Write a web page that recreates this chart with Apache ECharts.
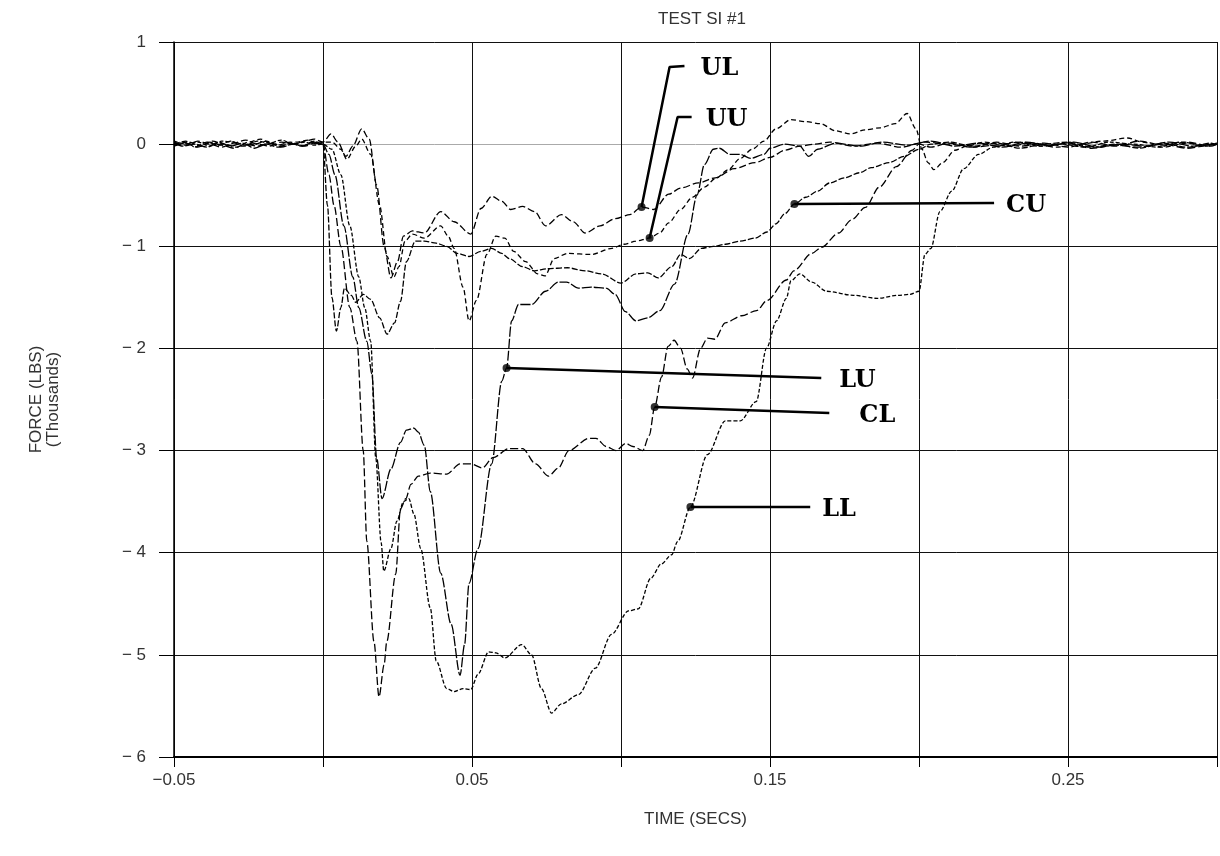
<!DOCTYPE html>
<html>
<head>
<meta charset="utf-8">
<title>TEST SI #1</title>
<script src="https://cdn.jsdelivr.net/npm/echarts@6/dist/echarts.min.js"></script>
<style>
  html, body { margin: 0; padding: 0; background: #fff; }
  #chart { width: 1220px; height: 856px; }
</style>
</head>
<body>
<div id="chart"></div>
<script>
// load traces, [time (secs), force (thousand lbs)]
const UL = [
  [-0.05,0.02],[-0.046,-0.01],[-0.042,0.03],[-0.038,0.0],[-0.034,-0.03],[-0.03,0.01],[-0.026,0.04],[-0.022,0.0],
  [-0.018,-0.02],[-0.014,0.02],[-0.01,0.0],[-0.006,0.03],[-0.003,0.05],[0,0.02],
  [0.0027,0.1],[0.005,0.02],[0.0077,-0.12],[0.010,-0.02],[0.013,0.15],[0.0155,0.05],[0.018,-0.4],[0.0205,-1.0],
  [0.0228,-1.31],[0.025,-1.15],[0.027,-0.9],[0.030,-0.85],[0.034,-0.87],[0.0395,-0.66],[0.044,-0.76],[0.0496,-0.88],
  [0.053,-0.63],[0.0567,-0.51],[0.060,-0.56],[0.063,-0.64],[0.067,-0.61],[0.071,-0.66],[0.0747,-0.8],[0.080,-0.69],
  [0.084,-0.76],[0.088,-0.87],[0.093,-0.8],[0.098,-0.73],[0.103,-0.69],[0.1069,-0.615],[0.111,-0.64],[0.116,-0.49],
  [0.120,-0.43],[0.126,-0.38],[0.1316,-0.33],[0.138,-0.24],[0.145,-0.18],[0.150,-0.13],[0.155,-0.06],[0.16,-0.02],
  [0.165,0.0],[0.17,0.02],[0.178,-0.02],[0.186,0.01],[0.194,-0.03],[0.202,0.02],[0.21,0.0],[0.218,-0.03],[0.226,0.02],
  [0.234,-0.02],[0.242,0.01],[0.25,-0.03],[0.258,0.02],[0.266,-0.02],[0.274,0.03],[0.282,-0.01],[0.29,0.02],
  [0.298,-0.02],[0.3,0.0]
];
const UU = [
  [-0.05,-0.01],[-0.045,0.02],[-0.041,-0.02],[-0.037,0.03],[-0.033,0.0],[-0.029,-0.03],[-0.025,0.02],[-0.021,0.05],
  [-0.017,0.0],[-0.013,-0.02],[-0.009,0.02],[-0.005,0.04],[-0.002,0.0],[0,0.02],
  [0.003,0.02],[0.006,-0.05],[0.008,-0.15],[0.011,-0.02],[0.013,0.05],[0.016,-0.1],[0.019,-0.6],[0.0215,-1.1],
  [0.0238,-1.3],[0.0255,-1.2],[0.0275,-0.95],[0.030,-0.88],[0.034,-0.92],[0.0395,-0.8],[0.042,-0.9],[0.044,-1.02],
  [0.047,-1.4],[0.049,-1.73],[0.0515,-1.53],[0.055,-1.08],[0.058,-0.9],[0.061,-0.92],[0.064,-1.05],[0.068,-1.15],
  [0.072,-1.27],[0.0745,-1.29],[0.0776,-1.12],[0.082,-1.07],[0.090,-1.08],[0.097,-1.02],[0.101,-0.98],[0.105,-0.95],
  [0.1096,-0.919],[0.113,-0.87],[0.116,-0.77],[0.120,-0.64],[0.124,-0.52],[0.128,-0.42],[0.132,-0.33],[0.136,-0.25],
  [0.140,-0.14],[0.144,-0.05],[0.148,0.03],[0.152,0.15],[0.157,0.24],[0.162,0.22],[0.167,0.2],[0.172,0.13],
  [0.177,0.1],[0.182,0.14],[0.187,0.16],[0.192,0.2],[0.196,0.3],[0.199,0.15],[0.201,-0.05],[0.203,-0.18],
  [0.205,-0.25],[0.208,-0.18],[0.212,-0.06],[0.216,-0.02],[0.222,0.02],[0.23,-0.02],[0.238,0.01],[0.246,-0.03],
  [0.254,0.0],[0.262,0.03],[0.27,0.06],[0.275,0.02],[0.282,-0.03],[0.29,0.01],[0.296,-0.02],[0.3,0.0]
];
const CU = [
  [-0.05,0.0],[-0.046,0.03],[-0.043,-0.03],[-0.039,0.02],[-0.035,-0.01],[-0.031,0.03],[-0.027,-0.02],[-0.023,0.0],
  [-0.019,0.03],[-0.015,-0.01],[-0.011,0.02],[-0.007,-0.02],[-0.003,0.03],[0,0.0],
  [0.0015,-0.6],[0.003,-1.5],[0.0045,-1.83],[0.006,-1.6],[0.0072,-1.41],[0.0095,-1.48],[0.011,-1.55],[0.0135,-1.47],
  [0.016,-1.52],[0.019,-1.7],[0.0215,-1.86],[0.024,-1.75],[0.026,-1.54],[0.028,-1.15],[0.031,-0.95],[0.034,-0.95],
  [0.038,-0.97],[0.0415,-1.0],[0.045,-1.07],[0.049,-1.1],[0.053,-1.05],[0.0566,-1.02],[0.060,-1.07],[0.0625,-1.12],
  [0.067,-1.2],[0.071,-1.24],[0.075,-1.22],[0.082,-1.21],[0.088,-1.24],[0.0935,-1.27],[0.1,-1.36],[0.105,-1.27],
  [0.109,-1.26],[0.1125,-1.31],[0.117,-1.2],[0.120,-1.08],[0.123,-1.12],[0.127,-1.02],[0.131,-1.0],[0.135,-0.98],
  [0.14,-0.95],[0.145,-0.92],[0.149,-0.86],[0.152,-0.78],[0.155,-0.68],[0.1582,-0.586],[0.162,-0.52],[0.166,-0.46],
  [0.170,-0.38],[0.175,-0.33],[0.180,-0.28],[0.184,-0.23],[0.190,-0.18],[0.195,-0.12],[0.200,-0.05],[0.204,0.0],
  [0.21,0.02],[0.218,-0.02],[0.226,0.01],[0.234,-0.04],[0.242,0.0],[0.25,0.02],[0.258,-0.03],[0.266,0.0],
  [0.274,-0.04],[0.282,0.01],[0.29,-0.03],[0.298,0.01],[0.3,-0.01]
];
const LU = [
  [-0.05,0.01],[-0.047,-0.02],[-0.043,0.0],[-0.039,-0.03],[-0.035,0.02],[-0.031,-0.02],[-0.027,0.01],[-0.023,-0.04],
  [-0.019,0.0],[-0.015,-0.03],[-0.011,0.01],[-0.007,-0.02],[-0.003,0.02],[0,0.0],
  [0.002,-0.1],[0.004,-0.3],[0.007,-0.8],[0.010,-1.3],[0.012,-1.6],[0.0147,-1.93],[0.0164,-2.25],[0.018,-3.07],
  [0.0198,-3.47],[0.0228,-3.18],[0.026,-2.92],[0.028,-2.8],[0.0305,-2.78],[0.032,-2.82],[0.034,-2.95],[0.036,-3.4],
  [0.0395,-4.2],[0.043,-4.7],[0.046,-5.2],[0.0475,-4.9],[0.049,-4.3],[0.052,-3.96],[0.0566,-3.13],[0.060,-2.32],
  [0.0616,-2.192],[0.0633,-1.73],[0.0656,-1.57],[0.070,-1.57],[0.0747,-1.44],[0.079,-1.35],[0.0817,-1.35],
  [0.0857,-1.41],[0.090,-1.40],[0.095,-1.41],[0.098,-1.47],[0.1015,-1.64],[0.105,-1.73],[0.109,-1.70],[0.113,-1.63],
  [0.118,-1.37],[0.1225,-0.88],[0.1255,-0.5],[0.128,-0.2],[0.131,-0.05],[0.133,-0.04],[0.1365,-0.1],[0.14,-0.1],
  [0.1435,-0.14],[0.148,-0.1],[0.15,-0.04],[0.155,0.0],[0.16,-0.02],[0.163,-0.12],[0.166,-0.05],[0.172,0.01],
  [0.18,-0.02],[0.188,0.02],[0.196,-0.01],[0.204,0.03],[0.212,-0.02],[0.22,0.01],[0.228,-0.03],[0.236,0.02],
  [0.244,-0.01],[0.252,0.02],[0.26,-0.03],[0.268,0.0],[0.276,-0.02],[0.284,0.02],[0.292,-0.02],[0.3,0.01]
];
const CL = [
  [-0.05,-0.02],[-0.046,0.01],[-0.042,-0.03],[-0.038,0.02],[-0.034,-0.01],[-0.03,-0.04],[-0.026,0.0],[-0.022,-0.02],
  [-0.018,0.01],[-0.014,-0.03],[-0.01,0.0],[-0.006,-0.02],[-0.003,0.01],[0,0.0],
  [0.002,-0.3],[0.0037,-0.6],[0.006,-1.0],[0.009,-1.6],[0.0114,-1.93],[0.0135,-3.0],[0.0147,-3.89],[0.0171,-4.87],
  [0.0188,-5.41],[0.0205,-5.1],[0.0214,-4.87],[0.0244,-4.21],[0.026,-3.57],[0.0278,-3.47],[0.0295,-3.33],
  [0.032,-3.25],[0.036,-3.22],[0.0415,-3.23],[0.046,-3.13],[0.0496,-3.13],[0.0535,-3.17],[0.057,-3.07],
  [0.0625,-2.98],[0.067,-2.98],[0.0713,-3.13],[0.0757,-3.25],[0.079,-3.17],[0.0825,-3.0],[0.0893,-2.88],
  [0.0916,-2.88],[0.095,-2.96],[0.0983,-3.0],[0.1016,-2.93],[0.104,-2.96],[0.1073,-3.0],[0.1095,-2.85],
  [0.1113,-2.574],[0.1136,-2.28],[0.1158,-1.98],[0.1178,-1.92],[0.12,-2.0],[0.1222,-2.2],[0.124,-2.29],
  [0.1267,-2.0],[0.129,-1.9],[0.1315,-1.91],[0.135,-1.75],[0.1405,-1.68],[0.1455,-1.63],[0.149,-1.53],
  [0.1555,-1.33],[0.158,-1.24],[0.164,-1.07],[0.1673,-1.01],[0.173,-0.87],[0.1774,-0.74],[0.182,-0.62],
  [0.1867,-0.42],[0.1924,-0.22],[0.1977,-0.06],[0.2,0.0],[0.204,-0.03],[0.21,0.01],[0.218,-0.03],[0.226,-0.01],
  [0.234,0.02],[0.242,-0.02],[0.25,0.01],[0.258,-0.04],[0.266,-0.01],[0.274,-0.03],[0.282,0.0],[0.29,-0.04],
  [0.298,-0.01],[0.3,0.0]
];
const LL = [
  [-0.05,0.03],[-0.046,0.0],[-0.042,0.02],[-0.038,-0.02],[-0.034,0.03],[-0.03,0.02],[-0.026,-0.01],[-0.022,0.03],
  [-0.018,0.01],[-0.014,0.04],[-0.01,0.0],[-0.006,0.02],[-0.003,-0.01],[0,0.0],
  [0.003,-0.05],[0.006,-0.3],[0.009,-0.8],[0.012,-1.3],[0.014,-1.6],[0.016,-1.93],[0.0177,-3.07],[0.0195,-3.9],
  [0.0204,-4.18],[0.0228,-3.96],[0.0248,-3.69],[0.027,-3.5],[0.0288,-3.47],[0.0305,-3.62],[0.0328,-3.96],
  [0.036,-4.54],[0.038,-5.06],[0.0415,-5.33],[0.044,-5.36],[0.047,-5.33],[0.0496,-5.34],[0.052,-5.19],
  [0.0556,-4.97],[0.058,-4.98],[0.061,-5.03],[0.0667,-4.9],[0.07,-5.0],[0.0733,-5.33],[0.0767,-5.57],[0.08,-5.48],
  [0.0857,-5.39],[0.0914,-5.13],[0.0968,-4.8],[0.1025,-4.57],[0.1058,-4.55],[0.11,-4.25],[0.1135,-4.11],
  [0.117,-4.02],[0.119,-3.89],[0.1233,-3.553],[0.129,-3.04],[0.135,-2.71],[0.14,-2.71],[0.1454,-2.52],
  [0.1488,-2.0],[0.1522,-1.73],[0.1555,-1.51],[0.157,-1.34],[0.16,-1.27],[0.164,-1.35],[0.169,-1.44],
  [0.178,-1.48],[0.186,-1.51],[0.193,-1.48],[0.197,-1.47],[0.2,-1.44],[0.202,-1.08],[0.204,-1.02],[0.207,-0.66],
  [0.211,-0.46],[0.215,-0.24],[0.22,-0.1],[0.225,-0.03],[0.232,0.02],[0.24,-0.02],[0.248,0.0],[0.256,-0.03],
  [0.264,0.02],[0.272,0.0],[0.28,-0.03],[0.288,0.02],[0.296,-0.01],[0.3,0.01]
];

const traces = [
  { name: "UL", data: UL, dash: [7, 3] },
  { name: "UU", data: UU, dash: [5, 3] },
  { name: "CU", data: CU, dash: [6, 2] },
  { name: "LU", data: LU, dash: [10, 2] },
  { name: "CL", data: CL, dash: [8, 3] },
  { name: "LL", data: LL, dash: [4, 2] }
];

// which x ticks get a number under them
const xLabelled = [-0.05, 0.05, 0.15, 0.25];

// call-out leaders: dot on the trace, bend, end of leader
const pointers = [
  { name: "UL", pts: [[0.1069, -0.615], [0.1163, 0.755], [0.1213, 0.765]], gap: 16 },
  { name: "UU", pts: [[0.1096, -0.919], [0.119, 0.266], [0.1237, 0.266]], gap: 14 },
  { name: "CU", pts: [[0.1582, -0.586], [0.2252, -0.576]], gap: 12 },
  { name: "LU", pts: [[0.0616, -2.192], [0.1672, -2.29]], gap: 18 },
  { name: "CL", pts: [[0.1113, -2.574], [0.1699, -2.632]], gap: 30 },
  { name: "LL", pts: [[0.1233, -3.553], [0.1635, -3.553]], gap: 12 }
];

const chart = echarts.init(document.getElementById("chart"));

const plotFont = "Liberation Sans";
const minus = (s) => s.replace("-", "\u2212");

const series = [];
traces.forEach((t) => {
  series.push({
    name: t.name,
    type: "line",
    data: t.data,
    symbol: "none",
    smooth: 0.3,
    smoothMonotone: "x",
    lineStyle: { color: "#000", width: 1.3, type: t.dash },
    z: 3
  });
});
pointers.forEach((p) => {
  series.push({
    name: p.name + " leader",
    type: "line",
    data: p.pts,
    symbol: "none",
    lineStyle: { color: "#000", width: 2.5 },
    endLabel: {
      show: true,
      formatter: p.name,
      distance: p.gap,
      offset: [0, 3],
      fontFamily: "DejaVu Serif",
      fontWeight: "bold",
      fontSize: 24,
      color: "#000"
    },
    z: 5
  });
});
series.push({
  name: "dots",
  type: "scatter",
  data: pointers.map((p) => p.pts[0]),
  symbol: "circle",
  symbolSize: 8,
  itemStyle: { color: "#000" },
  z: 6
});

const option = {
  animation: false,
  backgroundColor: "#fff",
  title: {
    text: "TEST SI #1",
    left: 697,
    top: 6,
    textAlign: "center",
    textStyle: { fontFamily: plotFont, fontWeight: "normal", fontSize: 17, color: "#333" }
  },
  grid: { left: 174, right: 2, top: 42, bottom: 99 },
  xAxis: {
    type: "value",
    min: -0.05,
    max: 0.3,
    interval: 0.05,
    name: "TIME (SECS)",
    nameLocation: "middle",
    nameGap: 54,
    nameTextStyle: { fontFamily: plotFont, fontSize: 17, color: "#333" },
    axisLine: { show: true, onZero: false, lineStyle: { color: "#000", width: 2 } },
    axisTick: { show: true, length: 10, lineStyle: { color: "#000", width: 1 } },
    axisLabel: {
      margin: 15,
      fontFamily: plotFont,
      fontSize: 17,
      color: "#333",
      formatter: (v) => xLabelled.some((x) => Math.abs(x - v) < 1e-6) ? minus(v.toFixed(2)) : ""
    },
    splitLine: { show: true, lineStyle: { color: "#111", width: 1 } }
  },
  yAxis: {
    type: "value",
    min: -6,
    max: 1,
    interval: 1,
    name: "FORCE (LBS)\n(Thousands)",
    nameLocation: "middle",
    nameRotate: 90,
    nameGap: 112,
    nameTextStyle: { fontFamily: plotFont, fontSize: 17, color: "#333", lineHeight: 17 },
    axisLine: { show: true, onZero: false, lineStyle: { color: "#000", width: 1.5 } },
    axisTick: { show: true, length: 15, lineStyle: { color: "#000", width: 1 } },
    axisLabel: {
      margin: 28,
      fontFamily: plotFont,
      fontSize: 17,
      color: "#333",
      formatter: (v) => v < 0 ? "\u2212 " + (-v) : String(v)
    },
    splitLine: {
      show: true,
      lineStyle: {
        color: ["#111", "#111", "#111", "#111", "#111", "#111", "#aaa", "#111"],
        width: 1
      }
    }
  },
  series: series
};

chart.setOption(option);
</script>
</body>
</html>
